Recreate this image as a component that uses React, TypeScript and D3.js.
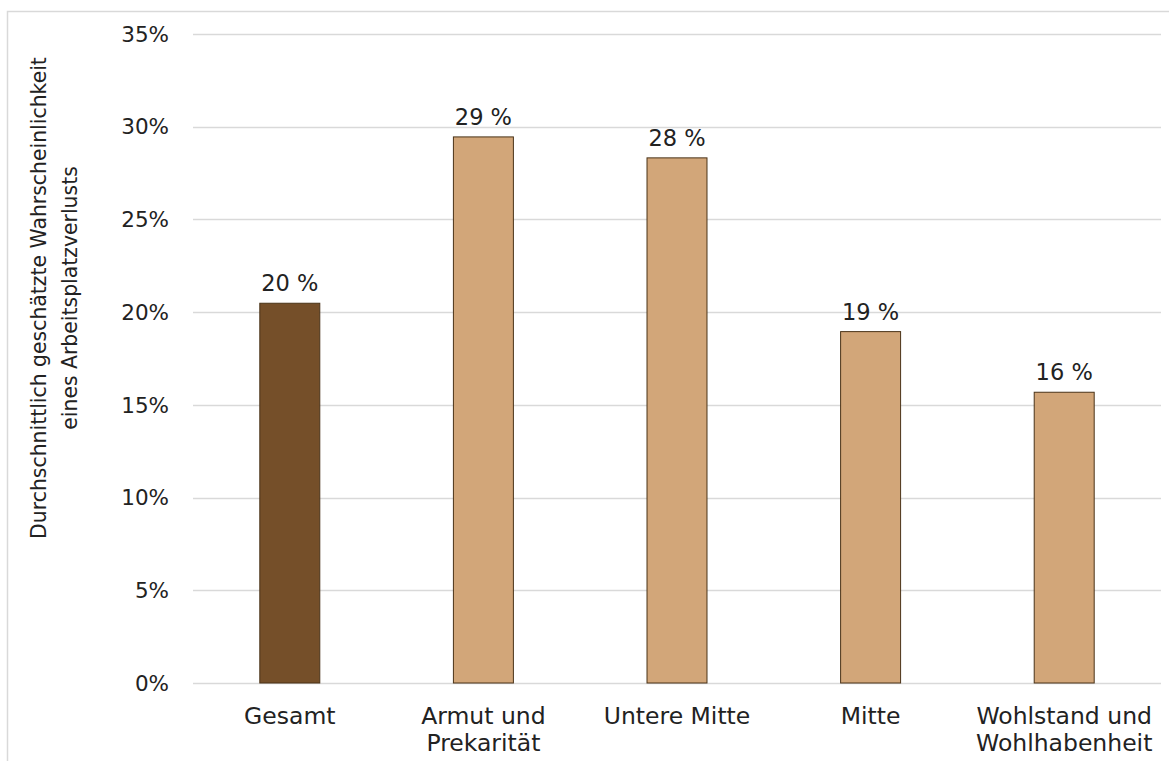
import React from "react";
import * as d3 from "d3";

const categories: string[][] = [
  ["Gesamt"],
  ["Armut und", "Prekarität"],
  ["Untere Mitte"],
  ["Mitte"],
  ["Wohlstand und", "Wohlhabenheit"],
];
const values: number[] = [20.48, 29.45, 28.32, 18.95, 15.68];
const valueLabels: string[] = ["20 %", "29 %", "28 %", "19 %", "16 %"];
const barColors: string[] = ["#754F29", "#D2A679", "#D2A679", "#D2A679", "#D2A679"];
const yTicks: number[] = [0, 5, 10, 15, 20, 25, 30, 35];
const yTitle: string[] = [
  "Durchschnittlich geschätzte Wahrscheinlichkeit",
  "eines Arbeitsplatzverlusts",
];

const W = 1169;
const H = 761;
const plot = { left: 193, right: 1161, top: 34, bottom: 683 };
const FONT = "'DejaVu Sans', sans-serif";

export default function App() {
  const x = d3
    .scaleBand<number>()
    .domain(d3.range(categories.length))
    .range([plot.left, plot.right])
    .paddingInner(0.685)
    .paddingOuter(0.3425);
  const y = d3.scaleLinear().domain([0, 35]).range([plot.bottom, plot.top]);

  return (
    <svg
      width={W}
      height={H}
      style={{ position: "absolute", left: 0, top: 0, background: "#fff" }}
      fontFamily={FONT}
    >
      <rect x={7.5} y={11.5} width={1200} height={800} fill="none" stroke="#d9d9d9" strokeWidth={1.5} />
      {yTicks.map((t) => (
        <g key={t}>
          <line
            x1={plot.left}
            x2={plot.right}
            y1={Math.round(y(t)) + 0.5}
            y2={Math.round(y(t)) + 0.5}
            stroke="#d9d9d9"
            strokeWidth={1.3}
          />
          <text
            x={169}
            y={y(t)}
            dy="0.36em"
            textAnchor="end"
            fontSize={21.5}
            fill="#222"
          >
            {t}%
          </text>
        </g>
      ))}
      {values.map((v, i) => {
        const bx = x(i)!;
        const bw = x.bandwidth();
        return (
          <g key={i}>
            <rect
              x={bx + 0.5}
              y={y(v)}
              width={bw - 1}
              height={y(0) - y(v)}
              fill={barColors[i]}
              stroke="#4a3318"
              strokeWidth={1}
            />
            <text
              x={bx + bw / 2}
              y={y(v) - 12}
              textAnchor="middle"
              fontSize={22.5}
              fill="#222"
            >
              {valueLabels[i]}
            </text>
            {categories[i].map((line, j) => (
              <text
                key={j}
                x={bx + bw / 2}
                y={724 + j * 27}
                textAnchor="middle"
                fontSize={23.5}
                fill="#222"
              >
                {line}
              </text>
            ))}
          </g>
        );
      })}
      <g transform="translate(0,298) rotate(-90)">
        {yTitle.map((line, j) => (
          <text
            key={j}
            x={0}
            y={46 + j * 31}
            textAnchor="middle"
            fontSize={20.4}
            fill="#222"
          >
            {line}
          </text>
        ))}
      </g>
    </svg>
  );
}
